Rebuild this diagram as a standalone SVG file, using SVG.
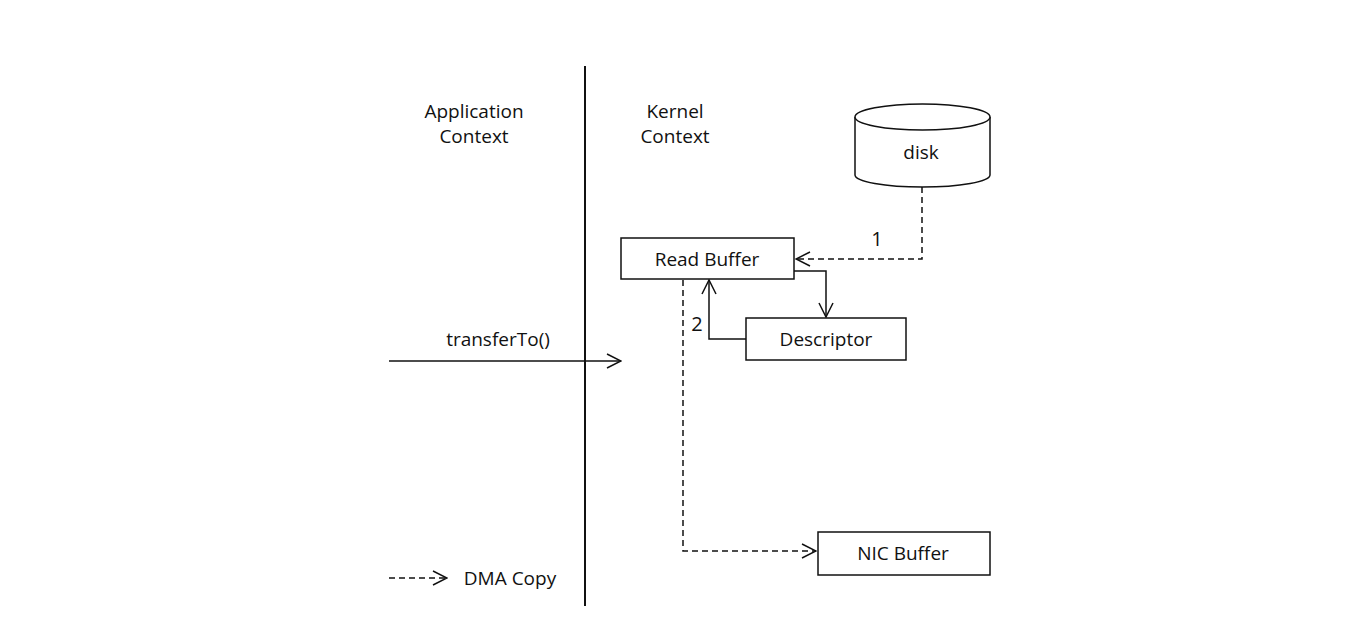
<svg xmlns="http://www.w3.org/2000/svg" width="1364" height="630" viewBox="0 0 1364 630">
<style>
text{font-family:"Open Sans","Liberation Sans",sans-serif;font-size:19px;fill:#111;text-anchor:middle;dominant-baseline:central}
.num{font-size:20px}
.box{fill:#fff;stroke:#111;stroke-width:1.5}
.ln{fill:none;stroke:#111;stroke-width:1.5}
.dash{fill:none;stroke:#111;stroke-width:1.5;stroke-dasharray:6,4}
</style>
<defs>
<marker id="open" viewBox="0 0 16 16" refX="15" refY="8" markerWidth="16" markerHeight="16" markerUnits="userSpaceOnUse" orient="auto">
<path d="M1,1 L15,8 L1,15" fill="none" stroke="#111" stroke-width="1.5"/>
</marker>
</defs>
<rect width="1364" height="630" fill="#fff"/>
<line x1="585" y1="66" x2="585" y2="606" stroke="#111" stroke-width="2"/>
<text x="474" y="111">Application</text>
<text x="474" y="136">Context</text>
<text x="675" y="111">Kernel</text>
<text x="675" y="136">Context</text>
<g id="connectors">
<path class="dash" d="M922,187 V259 H796" marker-end="url(#open)"/>
<path class="ln" d="M794,271 H826 V317" marker-end="url(#open)"/>
<path class="ln" d="M746,339 H709 V280" marker-end="url(#open)"/>
<path class="dash" d="M683,280 V551 H816" marker-end="url(#open)"/>
<path class="ln" d="M389,361 H621" marker-end="url(#open)"/>
<text x="498" y="339">transferTo()</text>
<text class="num" x="877" y="238">1</text>
<text class="num" x="697" y="323">2</text>
</g>
<g id="disk">
<path class="box" d="M855,117 V175 A67.5,12 0 0 0 990,175 V117"/>
<ellipse class="box" cx="922.5" cy="117" rx="67.5" ry="13"/>
<text x="921" y="152">disk</text>
</g>
<g id="read-buffer">
<rect class="box" x="621" y="238" width="173" height="41"/>
<text x="707" y="259">Read Buffer</text>
</g>
<g id="descriptor">
<rect class="box" x="746" y="318" width="160" height="42"/>
<text x="826" y="339">Descriptor</text>
</g>
<g id="nic-buffer">
<rect class="box" x="818" y="532" width="172" height="43"/>
<text x="903" y="553">NIC Buffer</text>
</g>
<g id="legend">
<path class="dash" d="M389,578 H447" marker-end="url(#open)"/>
<text x="510" y="578">DMA Copy</text>
</g>
</svg>
